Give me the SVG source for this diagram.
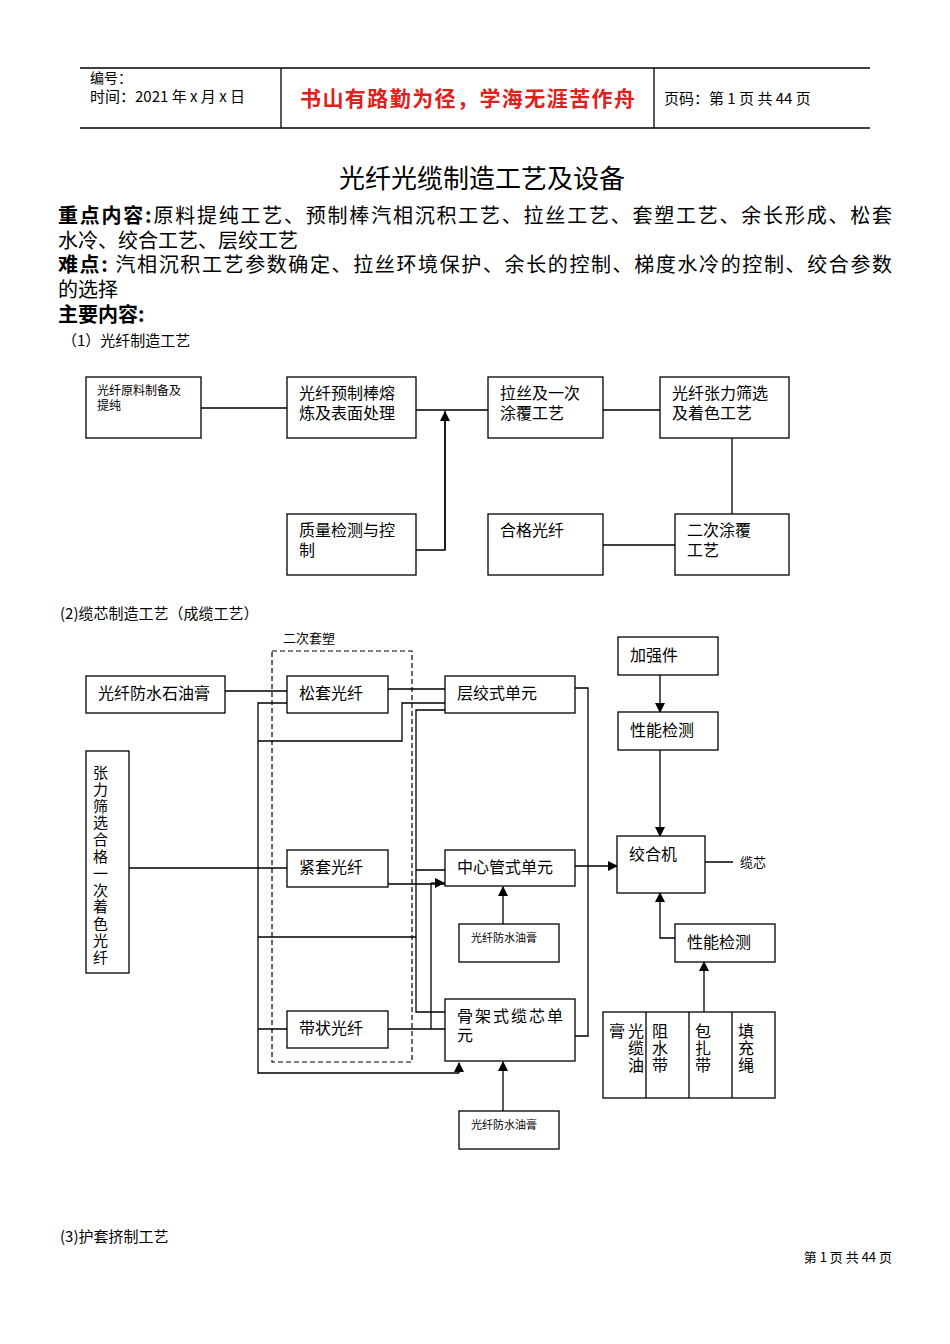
<svg xmlns="http://www.w3.org/2000/svg" width="950" height="1344" viewBox="0 0 950 1344">
<style>
text{font-family:"Noto Sans CJK SC","Liberation Serif",serif;fill:#000}
.b{fill:#fff;stroke:#000;stroke-width:1.3}
.l{fill:none;stroke:#000;stroke-width:1.3}
.t{font-size:16px}
.s{font-size:12px}
.h{font-size:20px}
</style>
<defs><marker id="a" markerWidth="10" markerHeight="10" refX="9" refY="5" orient="auto" markerUnits="userSpaceOnUse"><path d="M0,0L10,5L0,10z" fill="#000"/></marker></defs>
<rect width="950" height="1344" fill="#fff"/>
<g id="header">
<line x1="80" y1="68" x2="870" y2="68" class="l" stroke="#666"/>
<line x1="80" y1="128" x2="870" y2="128" class="l" stroke="#666"/>
<line x1="281" y1="68" x2="281" y2="128" class="l" stroke="#666"/>
<line x1="654" y1="68" x2="654" y2="128" class="l" stroke="#666"/>
<text x="90" y="83" font-size="14">编号：</text>
<text x="90" y="102" font-size="15">时间：2021 年 x 月 x 日</text>
<text x="300" y="106" font-size="21" font-weight="bold" textLength="335" style="fill:#e0201a">书山有路勤为径，学海无涯苦作舟</text>
<text x="664" y="104" font-size="15">页码：第 1 页 共 44 页</text>
</g>
<text x="482" y="188" font-size="26" text-anchor="middle">光纤光缆制造工艺及设备</text>
<text x="58" y="223" class="h" textLength="834"><tspan font-weight="bold">重点内容:</tspan>原料提纯工艺、预制棒汽相沉积工艺、拉丝工艺、套塑工艺、余长形成、松套</text>
<text x="58" y="248" class="h">水冷、绞合工艺、层绞工艺</text>
<text x="58" y="272" class="h" textLength="834"><tspan font-weight="bold">难点:</tspan> 汽相沉积工艺参数确定、拉丝环境保护、余长的控制、梯度水冷的控制、绞合参数</text>
<text x="58" y="297" class="h">的选择</text>
<text x="58" y="322" class="h" font-weight="bold">主要内容:</text>
<text x="62" y="346" font-size="15">（1）光纤制造工艺</text>
<g id="d1n1"><rect class="b" x="86" y="377" width="115" height="61"/><text x="97" y="395" class="s">光纤原料制备及</text><text x="97" y="410" class="s">提纯</text></g>
<g id="d1n2"><rect class="b" x="287" y="377" width="129" height="61"/><text x="299" y="399" class="t">光纤预制棒熔</text><text x="299" y="419" class="t">炼及表面处理</text></g>
<g id="d1n3"><rect class="b" x="488" y="377" width="115" height="61"/><text x="500" y="399" class="t">拉丝及一次</text><text x="500" y="419" class="t">涂覆工艺</text></g>
<g id="d1n4"><rect class="b" x="660" y="377" width="129" height="61"/><text x="672" y="399" class="t">光纤张力筛选</text><text x="672" y="419" class="t">及着色工艺</text></g>
<g id="d1n5"><rect class="b" x="287" y="514" width="129" height="61"/><text x="299" y="536" class="t">质量检测与控</text><text x="299" y="556" class="t">制</text></g>
<g id="d1n6"><rect class="b" x="488" y="514" width="115" height="61"/><text x="500" y="536" class="t">合格光纤</text></g>
<g id="d1n7"><rect class="b" x="675" y="514" width="114" height="61"/><text x="687" y="536" class="t">二次涂覆</text><text x="687" y="556" class="t">工艺</text></g>
<g id="d1c">
<path class="l" d="M201,408H287M416,410H488M416,550H445V411M603,410H660M732,438V514M603,545H675"/>
<path class="l" d="M445,550V412" marker-end="url(#a)"/>
</g>
<text x="60" y="619" font-size="15">(2)缆芯制造工艺（成缆工艺）</text>
<text x="283" y="643" font-size="13">二次套塑</text>
<rect x="272" y="651" width="140" height="411" fill="none" stroke="#000" stroke-width="1.2" stroke-dasharray="5,3"/>
<g id="c2">
<path class="l" d="M225,691H287M388,689H445M575,688H588V1036H575M287,703H258V1073H459M258,741H402V703H445M445,710H416V1012H445M416,870H445M388,884H445M258,937H416M258,1029H287M388,1029H445M431,1029V883M129,868H287M705,862H733"/>
<path class="l" d="M431,883H444" marker-end="url(#a)"/>
<path class="l" d="M459,1073V1063" marker-end="url(#a)"/>
<path class="l" d="M575,866H617" marker-end="url(#a)"/>
<path class="l" d="M503,924V887" marker-end="url(#a)"/>
<path class="l" d="M503,1111V1062" marker-end="url(#a)"/>
<path class="l" d="M660,675V712" marker-end="url(#a)"/>
<path class="l" d="M660,750V836" marker-end="url(#a)"/>
<path class="l" d="M675,938H660V893" marker-end="url(#a)"/>
<path class="l" d="M704,1012V962" marker-end="url(#a)"/>
</g>
<g id="n1"><rect class="b" x="86" y="676" width="139" height="37"/><text x="98" y="699" class="t">光纤防水石油膏</text></g>
<g id="n2"><rect class="b" x="287" y="676" width="101" height="37"/><text x="299" y="699" class="t">松套光纤</text></g>
<g id="n3"><rect class="b" x="445" y="676" width="130" height="37"/><text x="457" y="699" class="t">层绞式单元</text></g>
<g id="n4"><rect class="b" x="86" y="751" width="43" height="222"/>
<text font-size="15"><tspan x="93" y="778">张</tspan><tspan x="93" dy="16.8">力</tspan><tspan x="93" dy="16.8">筛</tspan><tspan x="93" dy="16.8">选</tspan><tspan x="93" dy="16.8">合</tspan><tspan x="93" dy="16.8">格</tspan><tspan x="93" dy="16.8">一</tspan><tspan x="93" dy="16.8">次</tspan><tspan x="93" dy="16.8">着</tspan><tspan x="93" dy="16.8">色</tspan><tspan x="93" dy="16.8">光</tspan><tspan x="93" dy="16.8">纤</tspan></text></g>
<g id="n5"><rect class="b" x="287" y="850" width="101" height="37"/><text x="299" y="873" class="t">紧套光纤</text></g>
<g id="n6"><rect class="b" x="445" y="850" width="130" height="36"/><text x="457" y="873" class="t">中心管式单元</text></g>
<g id="n7"><rect class="b" x="459" y="924" width="100" height="38"/><text x="471" y="942" font-size="11">光纤防水油膏</text></g>
<g id="n8"><rect class="b" x="287" y="1011" width="101" height="37"/><text x="299" y="1034" class="t">带状光纤</text></g>
<g id="n9"><rect class="b" x="445" y="999" width="130" height="62"/><text x="457" y="1022" class="t" textLength="106">骨架式缆芯单</text><text x="457" y="1041" class="t">元</text></g>
<g id="n10"><rect class="b" x="459" y="1111" width="100" height="38"/><text x="471" y="1129" font-size="11">光纤防水油膏</text></g>
<g id="n11"><rect class="b" x="618" y="637" width="100" height="38"/><text x="630" y="661" class="t">加强件</text></g>
<g id="n12"><rect class="b" x="618" y="712" width="100" height="38"/><text x="630" y="736" class="t">性能检测</text></g>
<g id="n13"><rect class="b" x="617" y="836" width="88" height="57"/><text x="629" y="860" class="t">绞合机</text></g>
<text x="740" y="867" font-size="13">缆芯</text>
<g id="n14"><rect class="b" x="675" y="924" width="100" height="38"/><text x="687" y="948" class="t">性能检测</text></g>
<g id="n15"><rect class="b" x="603" y="1012" width="172" height="86"/>
<path class="l" d="M646,1012V1098M689,1012V1098M732,1012V1098"/>
<text x="609" y="1037" class="t">膏</text>
<text class="t"><tspan x="628" y="1037">光</tspan><tspan x="628" dy="17">缆</tspan><tspan x="628" dy="17">油</tspan></text>
<text class="t"><tspan x="652" y="1037">阻</tspan><tspan x="652" dy="17">水</tspan><tspan x="652" dy="17">带</tspan></text>
<text class="t"><tspan x="695" y="1037">包</tspan><tspan x="695" dy="17">扎</tspan><tspan x="695" dy="17">带</tspan></text>
<text class="t"><tspan x="738" y="1037">填</tspan><tspan x="738" dy="17">充</tspan><tspan x="738" dy="17">绳</tspan></text>
</g>
<text x="60" y="1242" font-size="15">(3)护套挤制工艺</text>
<text x="892" y="1262" font-size="13" text-anchor="end">第 1 页 共 44 页</text>
</svg>
